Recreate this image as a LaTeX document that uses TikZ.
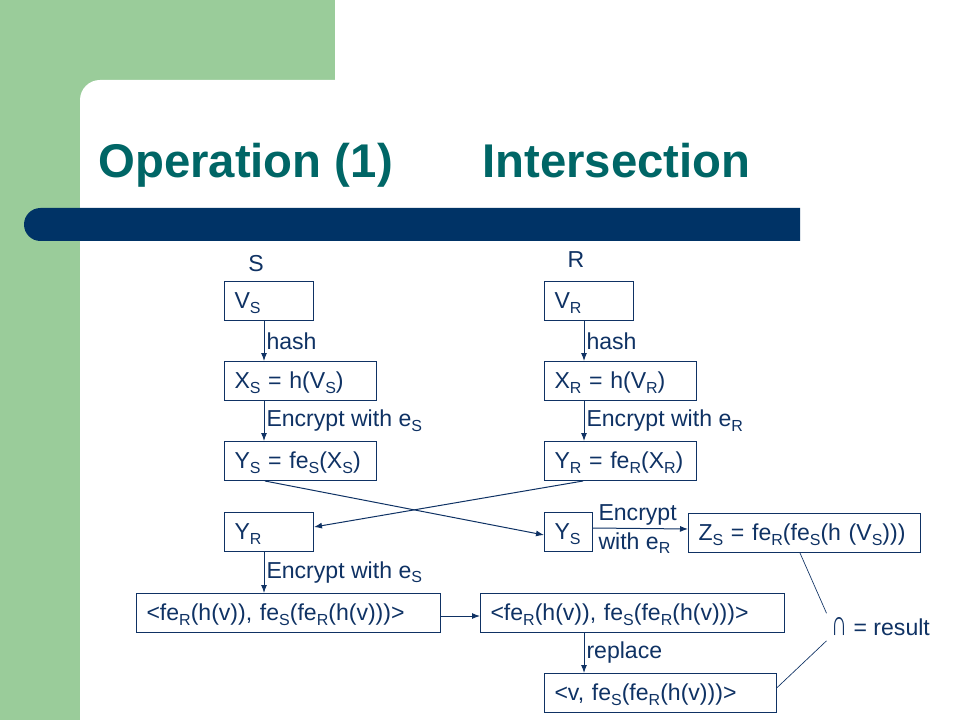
\documentclass[tikz,border=0pt]{standalone}
\usepackage{fontspec}
\usepackage{graphicx}
\setmainfont{Liberation Sans}
\usetikzlibrary{arrows.meta,positioning,calc}
\definecolor{slidegreen}{HTML}{9ACC9A}
\definecolor{slidebar}{HTML}{003366}
\definecolor{titleteal}{HTML}{006666}
\definecolor{ink}{HTML}{0F3264}
\newcommand\idx[1]{\raisebox{-3.3pt}{\fontsize{12pt}{12pt}\selectfont #1}}
\newcommand\meetsym{\resizebox{12pt}{13.5pt}{∩}}
\tikzset{
  >=Latex,
  every node/.append style={font=\fontsize{17.3pt}{21pt}\selectfont, text=ink},
}
\tikzset{
  box/.style={draw=ink, line width=0.75pt, anchor=north west, align=left, inner xsep=7.5pt,
    text width=#1, minimum height=29.25pt, text height=13pt, text depth=1.4pt},
  arrow/.style={-{Latex[length=6pt,width=4.5pt]}, draw=ink, line width=0.75pt},
  link/.style={draw=ink, line width=0.5pt},
  lbl/.style={anchor=west, inner xsep=1.5pt}
}
\begin{document}
\begin{tikzpicture}[
  x=0.75pt, y=-0.75pt,
  title/.style={font=\fontsize{35.5pt}{40pt}\selectfont\bfseries, text=titleteal, anchor=base west, inner sep=0pt},
  party/.style={inner sep=0pt},
  side/.style={pos=0, anchor=base west, inner xsep=1pt, xshift=2.75pt},
]
\useasboundingbox (0,0) rectangle (960,720);

% --- Slide background ---
\fill[slidegreen] (0,0) rectangle (335,720);
\fill[white, rounded corners=15pt] (80,80) rectangle (1000,760);
\fill[slidebar] (800,208) -- (40.5,208) arc[start angle=90, end angle=270, radius=12.375pt]
  -- (800,241) -- cycle;

% --- Title ---
\node[title] (op) at (98,178) {Operation (1)};
\node[title] (inter) at (482,178) {Intersection};

% --- Parties ---
\node[party] (S) at (256,264) {S};
\node[party] (R) at (576,260) {R};

% --- S column ---
\node[box=51.75pt] (VS) at (224,281) {V\idx{S}};
\node[box=99pt] (XS) at (224,361) {X\idx{S} = h(V\idx{S})};
\node[box=99pt] (YS) at (224,441) {Y\idx{S} = fe\idx{S}(X\idx{S})};

% --- R column ---
\node[box=51.75pt] (VR) at (544,281) {V\idx{R}};
\node[box=99pt] (XR) at (544,361) {X\idx{R} = h(V\idx{R})};
\node[box=99pt] (YR) at (544,441) {Y\idx{R} = fe\idx{R}(X\idx{R})};

% --- Exchanged values ---
\node[box=51.75pt] (YRl) at (224,512) {Y\idx{R}};
\node[box=21pt] (YSr) at (544,512) {Y\idx{S}};
\node[box=159pt] (ZS) at (688,513) {Z\idx{S} = fe\idx{R}(fe\idx{S}(h (V\idx{S})))};

% --- Pairs ---
\node[box=213pt] (L1) at (136,593) {<fe\idx{R}(h(v)), fe\idx{S}(fe\idx{R}(h(v)))>};
\node[box=213pt] (L2) at (480,593) {<fe\idx{R}(h(v)), fe\idx{S}(fe\idx{R}(h(v)))>};
\node[box=159pt] (Bot) at (544,673) {<v, fe\idx{S}(fe\idx{R}(h(v)))>};

% --- Result ---
\node[anchor=west] (res) at (826.5,627) {\meetsym{} = result};

% --- Connectors ---
\draw[arrow] ([xshift=30pt]VS.south west) -- ([xshift=30pt]XS.north west) node[midway, lbl] {hash};
\draw[arrow] ([xshift=30pt]XS.south west) -- ([xshift=30pt]YS.north west) node[midway, lbl] {Encrypt with e\idx{S}};
\draw[arrow] ([xshift=30pt]VR.south west) -- ([xshift=30pt]XR.north west) node[midway, lbl] {hash};
\draw[arrow] ([xshift=30pt]XR.south west) -- ([xshift=30pt]YR.north west) node[midway, lbl] {Encrypt with e\idx{R}};

\draw[arrow] ([xshift=30.75pt]YS.south west) -- ([yshift=-2.25pt]YSr.west);
\draw[arrow] ([xshift=29.25pt]YR.south west) -- ([yshift=3.75pt]YRl.east);

\draw[arrow] ([yshift=3pt]YSr.east) -- ([yshift=3pt]ZS.west)
  node[side, yshift=6pt] {Encrypt}
  node[side, yshift=-15.75pt] {with e\idx{R}};

\draw[arrow] ([xshift=30pt]YRl.south west) -- ([xshift=96pt]L1.north west) node[midway, lbl] {Encrypt with e\idx{S}};
\draw[arrow] ([yshift=-2.25pt]L1.east) -- ([yshift=-2.25pt]L2.west);
\draw[arrow] ([xshift=78pt]L2.south west) -- ([xshift=30pt]Bot.north west) node[midway, lbl] {replace};

\draw[link] ([xshift=84pt]ZS.south west) -- (res.north west);
\draw[link] ([yshift=4pt]Bot.east) -- (res.south west);

\end{tikzpicture}
\end{document}
